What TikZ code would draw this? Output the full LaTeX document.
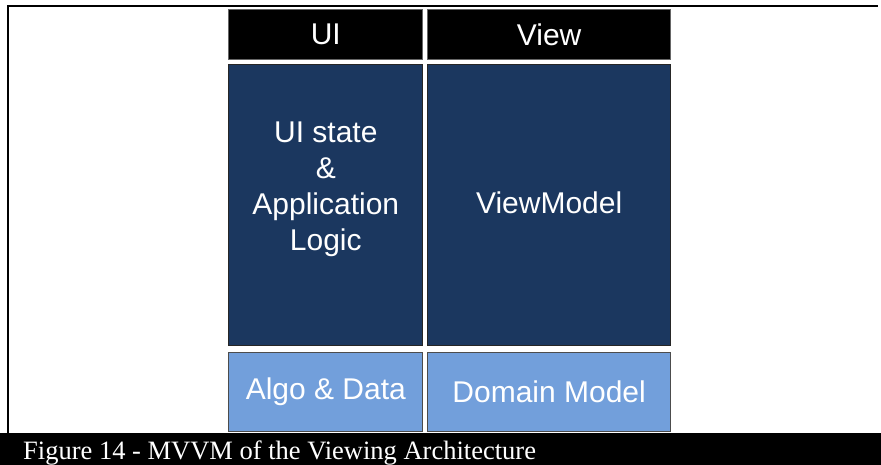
\documentclass[tikz,border=0pt]{standalone}
\usepackage{fontspec}
\setmainfont{Liberation Serif}
\setsansfont{Liberation Sans}
\usetikzlibrary{positioning}
\definecolor{layerdark}{HTML}{1B375F}
\definecolor{layerlight}{HTML}{729FDB}
\tikzstyle{layer}=[draw,line width=1pt,text=white,align=center,inner sep=0pt,font=\sffamily\fontsize{30}{36}\selectfont]
\tikzstyle{header}=[layer,fill=black,draw=black!60,minimum height=49.7pt]
\tikzstyle{logic}=[layer,fill=layerdark,draw=black!85,minimum height=280.7pt]
\tikzstyle{model}=[layer,fill=layerlight,draw=black!70,minimum height=79.3pt]
\tikzstyle{narrow}=[minimum width=194pt]
\tikzstyle{wide}=[minimum width=243.3pt]

\begin{document}
\begin{tikzpicture}[x=1pt,y=-1pt]
\useasboundingbox (0,0) rectangle (881,465);
% frame and caption bar
\draw[line width=2pt] (7.8,433) -- (7.8,6) -- (878,6);
\fill (0,433) rectangle (881,465);

\node[header,narrow,anchor=north west] (ui) at (228.3,9.3) {UI};
\node[header,wide,right=3.7pt of ui] (view) {View};
\node[logic,narrow,below=4.3pt of ui,text depth=37pt] (uistate) {UI state\\\&\\Application\\Logic};
\node[logic,wide,below=4.3pt of view,text depth=6pt] (viewmodel) {ViewModel};
\node[model,narrow,below=6pt of uistate] (algo) {Algo \& Data};
\node[model,wide,below=6pt of viewmodel] (domain) {Domain Model};

\node[anchor=base west,inner sep=0pt,text=white,font=\fontsize{26.5}{30}\selectfont] (caption) at (23,459.3) {Figure 14 - MVVM of the Viewing Architecture};
\end{tikzpicture}
\end{document}
